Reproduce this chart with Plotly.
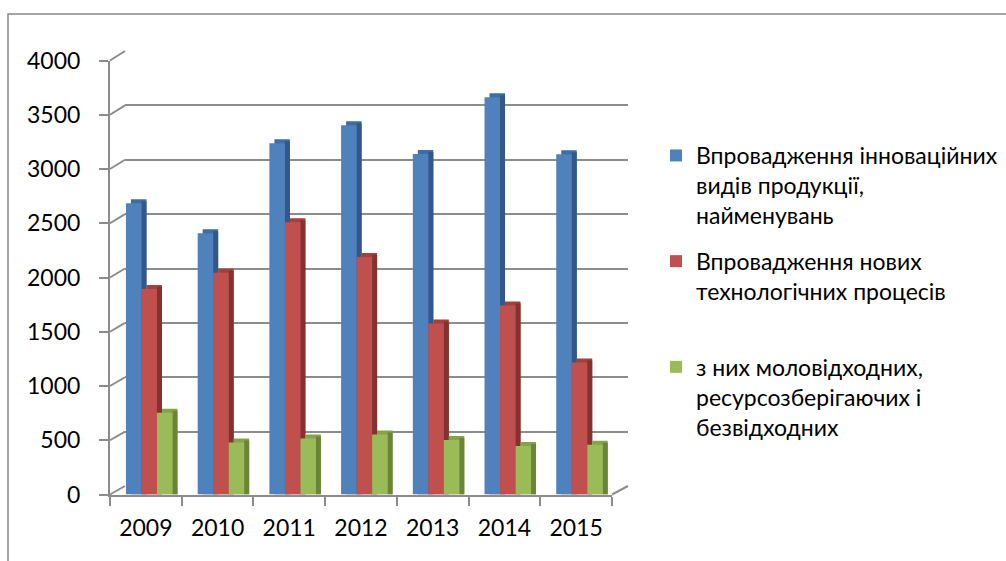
import plotly.graph_objects as go

years = ["2009", "2010", "2011", "2012", "2013", "2014", "2015"]
innov_products = [2685, 2408, 3238, 3403, 3138, 3661, 3136]
new_processes = [1893, 2043, 2510, 2188, 1576, 1743, 1217]
low_waste = [753, 479, 517, 554, 502, 447, 458]

series_names = [
    "Впровадження інноваційних<br>видів продукції,<br>найменувань",
    "Впровадження нових<br>технологічних процесів<br> ",
    "з них моловідходних,<br>ресурсозберігаючих і<br>безвідходних",
]
front_colors = ["#4F81BD", "#C0504D", "#9BBB59"]
top_colors = ["#3E6CA5", "#A43F3C", "#84A44A"]
side_colors = ["#335888", "#84322F", "#6B8538"]

W, H = 1006, 561
FONT = "Lato, 'Open Sans', sans-serif"

def px_x(p):
    return p / W

def px_y(p):
    return 1 - p / H

fx0, fx1 = 110, 612
fy0, fy4000 = 494.5, 60.5
bx0, bx1 = 125, 628
by0, by4000 = 486, 51

ymax = 4000
cat_px = (fx1 - fx0) / len(years)
bar_w = 15.5 / cat_px
depth_x = 5 / cat_px
depth_y = 4 / ((fy0 - fy4000) / ymax)
first_off = -19.9 / cat_px

fig = go.Figure()

fig.add_trace(go.Scatter(x=[0], y=[0], xaxis="x", yaxis="y", mode="markers",
                         marker=dict(opacity=0), showlegend=False, hoverinfo="skip"))

all_series = [innov_products, new_processes, low_waste]
for i, vals in enumerate(all_series):
    off = first_off + i * bar_w
    fig.add_trace(go.Bar(
        x=years, y=[v + depth_y for v in vals], xaxis="x2", yaxis="y2",
        offset=off + depth_x, width=bar_w, marker=dict(color=top_colors[i], line=dict(width=0)),
        showlegend=False, hoverinfo="skip"))
    fig.add_trace(go.Bar(
        x=years, y=[v + depth_y * 0.5 for v in vals], xaxis="x2", yaxis="y2",
        offset=off + bar_w, width=depth_x, marker=dict(color=side_colors[i], line=dict(width=0)),
        showlegend=False, hoverinfo="skip"))
    fig.add_trace(go.Bar(
        x=years, y=vals, xaxis="x2", yaxis="y2", name=series_names[i],
        offset=off, width=bar_w, marker=dict(color=front_colors[i], line=dict(width=0)),
        legendgroup=str(i)))

grid_col = "#8C8C8C"
tick_vals = list(range(0, ymax + 1, 500))

fig.update_layout(
    template="none",
    width=W, height=H,
    margin=dict(l=0, r=0, t=0, b=0, pad=0, autoexpand=False),
    paper_bgcolor="white", plot_bgcolor="rgba(0,0,0,0)",
    barmode="overlay",
    font=dict(family=FONT, color="#000000"),
    xaxis=dict(domain=[px_x(bx0), px_x(bx1)], range=[0, 1], showgrid=False, zeroline=False,
               showticklabels=False, showline=False, anchor="y", fixedrange=True,
               automargin=False, ticks=""),
    yaxis=dict(domain=[px_y(by0), px_y(by4000)], range=[0, ymax], tickvals=tick_vals,
               showgrid=True, gridcolor=grid_col, gridwidth=2, zeroline=False,
               showticklabels=False, showline=False, anchor="x", fixedrange=True,
               automargin=False, ticks=""),
    xaxis2=dict(domain=[px_x(fx0), px_x(fx1)], type="category", range=[-0.5, len(years) - 0.5],
                anchor="y2", showline=True, linecolor=grid_col, linewidth=2,
                ticks="outside", tickson="boundaries", ticklen=9, tickwidth=2, tickcolor=grid_col,
                showgrid=False, zeroline=False, tickfont=dict(size=23, family=FONT),
                ticklabelstandoff=12, automargin=False),
    yaxis2=dict(domain=[px_y(fy0), px_y(fy4000)], range=[0, ymax], tickvals=tick_vals,
                anchor="x2", showline=True, linecolor=grid_col, linewidth=2,
                ticks="outside", ticklen=9, tickwidth=2, tickcolor=grid_col,
                showgrid=False, zeroline=False, tickfont=dict(size=23, family=FONT),
                ticklabelstandoff=14, automargin=False),
    legend=dict(x=px_x(656), y=px_y(134), xanchor="left", yanchor="top",
                font=dict(size=23, family=FONT), valign="top",
                traceorder="grouped", tracegroupgap=13, bgcolor="rgba(0,0,0,0)",
                borderwidth=0),
    showlegend=True,
)

shapes = []
for v in tick_vals:
    yf = fy0 - (fy0 - fy4000) * v / ymax
    yb = by0 - (by0 - by4000) * v / ymax
    shapes.append(dict(type="line", xref="paper", yref="paper",
                       x0=px_x(fx0), y0=px_y(yf), x1=px_x(bx0), y1=px_y(yb),
                       line=dict(color=grid_col, width=2), layer="below"))
shapes.append(dict(type="line", xref="paper", yref="paper",
                   x0=px_x(fx1), y0=px_y(fy0), x1=px_x(bx1), y1=px_y(by0),
                   line=dict(color=grid_col, width=2), layer="below"))
shapes.append(dict(type="rect", xref="paper", yref="paper",
                   x0=px_x(8), y0=-0.05, x1=1.05, y1=px_y(14),
                   line=dict(color="#888888", width=1.5), layer="below"))
fig.update_layout(shapes=shapes)

fig.write_html("out.html", config={"displayModeBar": False},
               post_script="document.body.style.margin='0px';document.body.style.overflow='hidden';")
